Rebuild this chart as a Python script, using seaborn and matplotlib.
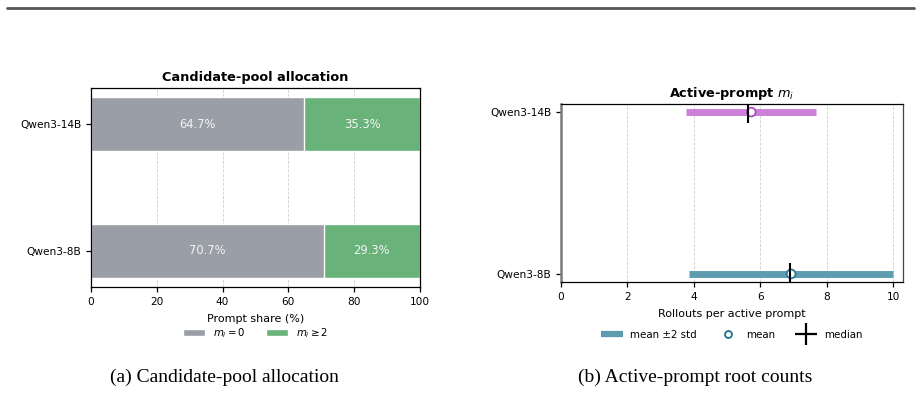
import matplotlib
matplotlib.use("Agg")
import matplotlib.pyplot as plt
import seaborn as sns
import pandas as pd
from matplotlib.patches import Patch
from matplotlib.lines import Line2D

# ---- data ----
models = ["Qwen3-14B", "Qwen3-8B"]
share_zero = [64.7, 70.7]      # m_i = 0
share_ge2 = [35.3, 29.3]       # m_i >= 2
mi_mean = [5.73, 6.93]
mi_std = [0.98, 1.53]
mi_median = [5.63, 6.90]
bar_labels_legend = ["$m_i = 0$", "$m_i \\geq 2$"]
range_colors = ["#cc80d8", "#5f9caf"]
mean_edge = ["#a94fc0", "#2c7a98"]

sns.set_style("ticks")
plt.rcParams["font.family"] = ["DejaVu Sans"]
TICK = 7.6
LAB = 8.0
LEG = 7.4
plt.rcParams.update({"font.size": TICK, "text.color": "black", "axes.labelcolor": "black",
                     "xtick.color": "black", "ytick.color": "black"})

fig = plt.figure(figsize=(9.21, 3.93), dpi=100)

# top rule
fig.add_artist(Line2D([7 / 921, 914 / 921], [1 - 7.5 / 393, 1 - 7.5 / 393],
                      color="#555555", lw=2.0, transform=fig.transFigure))

# ---- left panel ----
axL = fig.add_axes([91 / 921, 1 - 287 / 393, 329 / 921, 199 / 393])
df = pd.DataFrame({"model": models, "zero": share_zero, "ge2": share_ge2})
df["total"] = df["zero"] + df["ge2"]
gray = "#9a9ea6"
green = "#69b37a"
sns.barplot(data=df, x="total", y="model", color=green, width=0.425,
            ax=axL, orient="h", saturation=1)
sns.barplot(data=df, x="zero", y="model", color=gray, width=0.425,
            ax=axL, orient="h", saturation=1)
for i, (z, g) in enumerate(zip(share_zero, share_ge2)):
    axL.text(z / 2, i, f"{z:.1f}%", ha="center", va="center", color="#f4f4f4", fontsize=8.3)
    axL.text(z + g / 2, i, f"{g:.1f}%", ha="center", va="center", color="#f4f4f4", fontsize=8.3)
axL.set_xlim(0, 100)
axL.set_ylim(1.284, -0.284)
axL.set_xticks([0, 20, 40, 60, 80, 100])
axL.set_xlabel("Prompt share (%)", fontsize=LAB, labelpad=5)
axL.set_ylabel("")
axL.set_title("Candidate-pool allocation", fontsize=9.3, fontweight="bold", pad=5)
axL.grid(axis="x", linestyle="--", color="#d0d0d0", lw=0.6)
axL.set_axisbelow(True)
for s in axL.spines.values():
    s.set_visible(True)
    s.set_color("black")
    s.set_linewidth(0.9)
axL.tick_params(labelsize=TICK, length=3.5, width=0.9, color="black")
handlesL = [Patch(facecolor=gray, label=bar_labels_legend[0]),
            Patch(facecolor=green, label=bar_labels_legend[1])]
axL.legend(handles=handlesL, loc="center", bbox_to_anchor=(0.5, -0.232), ncol=2,
           frameon=False, fontsize=LEG, handlelength=2.1, handleheight=0.75,
           columnspacing=2.0, handletextpad=0.8)

# ---- right panel ----
axR = fig.add_axes([561 / 921, 1 - 282 / 393, 342 / 921, 178 / 393])
ypos = list(range(len(models)))
for i in ypos:
    lo = mi_mean[i] - 2 * mi_std[i]
    hi = mi_mean[i] + 2 * mi_std[i]
    lc = axR.hlines(i, lo, hi, color=range_colors[i], lw=5, zorder=3)
    lc.set_capstyle("butt")
dfR = pd.DataFrame({"mean": mi_mean, "y": ypos, "model": models})
sns.scatterplot(data=dfR, x="mean", y="y", marker="o", s=40, ax=axR,
                legend=False, zorder=4)
sc = axR.collections[-1]
sc.set_facecolor("white")
sc.set_edgecolor(mean_edge)
sc.set_linewidth(1.3)
axR.scatter(mi_median, ypos, marker="|", s=260, color="black", linewidths=1.5, zorder=5)
axR.set_xlim(0, 10.3)
axR.set_ylim(1.05, -0.05)
axR.set_yticks(ypos)
axR.set_yticklabels(models)
axR.set_xticks([0, 2, 4, 6, 8, 10])
axR.set_xlabel("Rollouts per active prompt", fontsize=LAB, labelpad=5.5)
axR.set_ylabel("")
axR.set_title("Active-prompt $m_i$", fontsize=9.3, fontweight="bold", pad=5)
axR.grid(axis="x", linestyle="--", color="#d0d0d0", lw=0.6)
axR.set_axisbelow(True)
for name, s in axR.spines.items():
    s.set_visible(True)
    s.set_color("black")
    s.set_linewidth(0.9)
axR.spines["left"].set_color("#7a7a7a")
axR.spines["left"].set_linewidth(1.8)
axR.spines["right"].set_color("#444444")
axR.tick_params(labelsize=TICK, length=3.5, width=0.9, color="black")
handlesR = [Line2D([], [], color=range_colors[1], lw=4.5, solid_capstyle="butt",
                   label="mean ±2 std"),
            Line2D([], [], marker="o", linestyle="none", markerfacecolor="white",
                   markeredgecolor="#1f6f92", markeredgewidth=1.3, markersize=5, label="mean"),
            Line2D([], [], marker="+", linestyle="none", color="black",
                   markersize=16, markeredgewidth=1.6, label="median")]
axR.legend(handles=handlesR, loc="center", bbox_to_anchor=(0.5, -0.298), ncol=3,
           frameon=False, fontsize=LEG, handlelength=2.1, columnspacing=2.0,
           handletextpad=0.7)

# captions
fig.text(224 / 921, 1 - 377 / 393, "(a) Candidate-pool allocation",
         ha="center", va="center", family=["Liberation Serif"], fontsize=14)
fig.text(695 / 921, 1 - 377 / 393, "(b) Active-prompt root counts",
         ha="center", va="center", family=["Liberation Serif"], fontsize=14)

fig.savefig("out.png", dpi=100)
